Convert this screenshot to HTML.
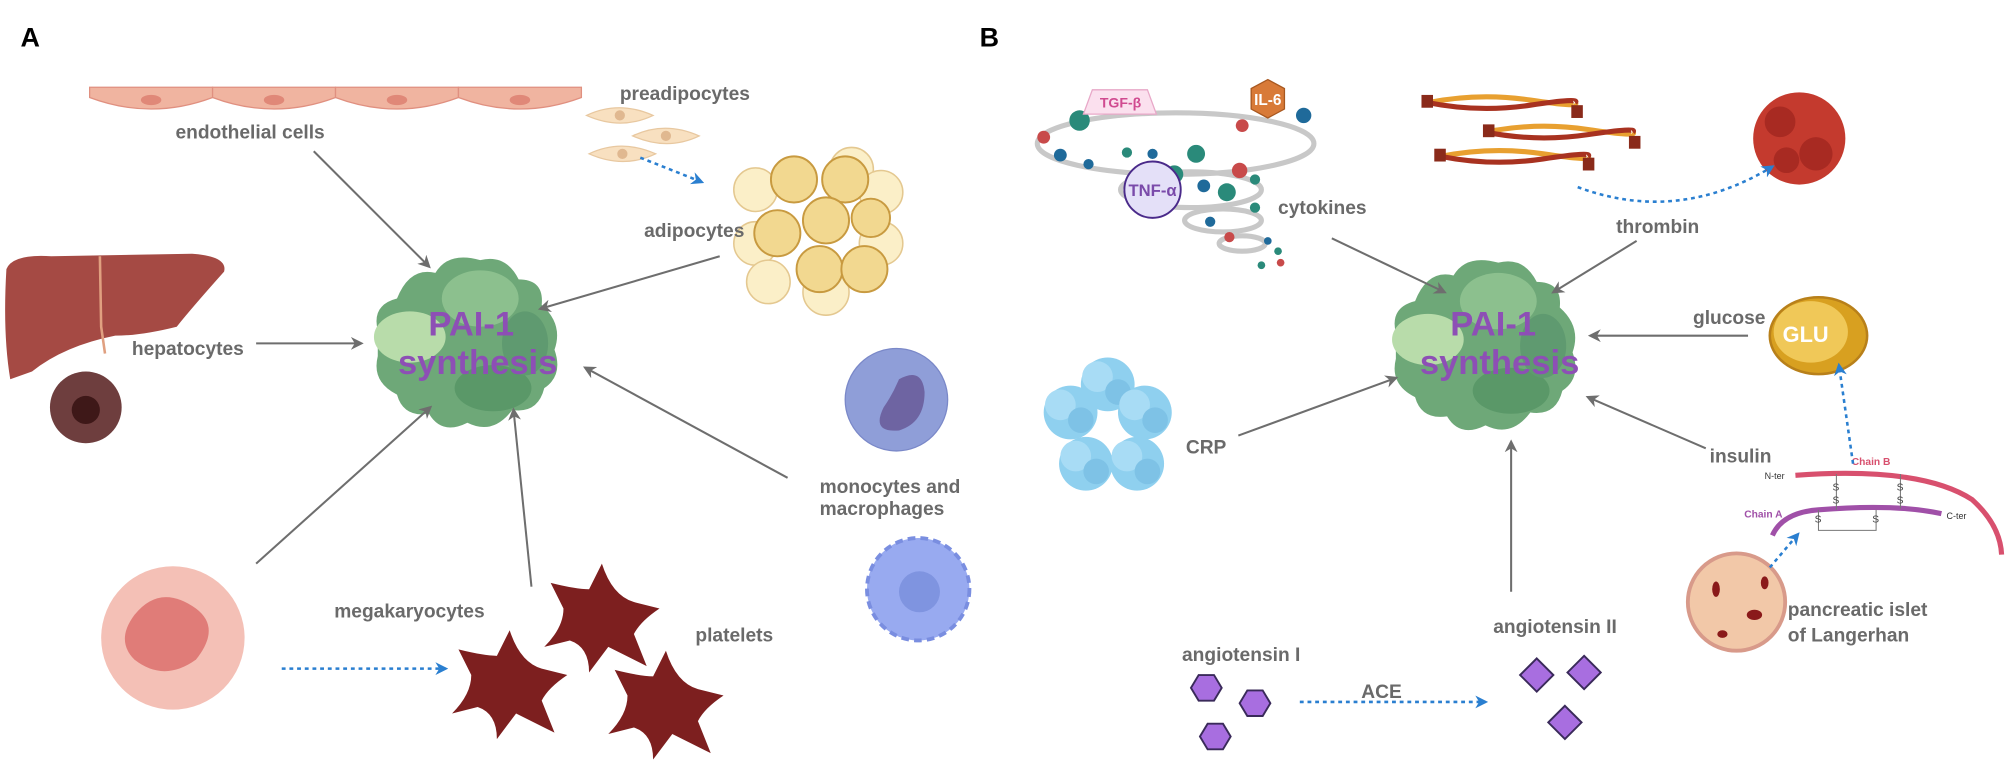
<!DOCTYPE html>
<html><head><meta charset="utf-8"><style>
html,body{margin:0;padding:0;background:#fff;}
svg{display:block;}
text{font-family:"Liberation Sans",sans-serif;}
.l{font-size:15px;font-weight:bold;fill:#6a6a6a;}
.p{font-size:27px;font-weight:bold;fill:#8d4fb5;text-anchor:middle;}
.ar{stroke:#6e6e6e;stroke-width:1.6;fill:none;marker-end:url(#ag);}
.db{stroke:#2a7fd0;stroke-width:2;stroke-dasharray:3 3;fill:none;marker-end:url(#ab);}
</style></head><body>
<svg width="2008" height="761" viewBox="0 0 1568 594" xmlns="http://www.w3.org/2000/svg">
<defs>
<marker id="ag" markerWidth="10" markerHeight="10" refX="8" refY="5" orient="auto" markerUnits="userSpaceOnUse"><path d="M0,0 L10,5 L0,10 L3,5 z" fill="#6e6e6e"/></marker>
<marker id="ab" markerWidth="10" markerHeight="10" refX="8" refY="5" orient="auto" markerUnits="userSpaceOnUse"><path d="M0,0 L10,5 L0,10 L3,5 z" fill="#2a7fd0"/></marker>
<g id="blob">
<path d="M-70,-10 Q-75,-30 -55,-35 Q-45,-60 -25,-55 Q-15,-72 10,-65 Q30,-70 40,-50 Q60,-50 58,-30 Q75,-15 68,5 Q75,25 60,35 Q55,55 35,52 Q20,72 0,62 Q-20,72 -30,55 Q-50,58 -55,40 Q-75,30 -70,10 z" fill="#6ea878"/>
<ellipse cx="-45" cy="-5" rx="28" ry="20" fill="#b8dcaa"/>
<ellipse cx="10" cy="-35" rx="30" ry="22" fill="#8cc08e"/>
<ellipse cx="20" cy="35" rx="30" ry="18" fill="#5a9868"/>
<ellipse cx="45" cy="0" rx="18" ry="25" fill="#5f9a70"/>
</g>
<g id="crp"><circle r="21" fill="#8fd0ef"/><circle cx="-8" cy="-6" r="12" fill="#a8dcf5"/><circle cx="8" cy="6" r="10" fill="#7ec2e6"/></g>
<g id="plt"><path d="M0,-40 Q8,-15 25,-10 L45,-5 Q30,5 25,15 L35,40 Q15,30 5,25 L-10,45 Q-10,25 -25,20 L-45,25 Q-30,10 -30,-5 L-40,-25 Q-20,-20 -10,-20 z" fill="#7d1f1f"/></g>
</defs>

<text x="16" y="36" style="font-size:21px;font-weight:bold;fill:#000">A</text>
<text x="765" y="36" style="font-size:21px;font-weight:bold;fill:#000">B</text>

<!-- endothelial -->
<g fill="#f0b4a0" stroke="#e09080" stroke-width="1">
<path d="M70,68 h96 v8 q-48,18 -96,0 z"/><path d="M166,68 h96 v8 q-48,18 -96,0 z"/><path d="M262,68 h96 v8 q-48,18 -96,0 z"/><path d="M358,68 h96 v8 q-48,18 -96,0 z"/>
</g>
<g fill="#e08878"><ellipse cx="118" cy="78" rx="8" ry="4"/><ellipse cx="214" cy="78" rx="8" ry="4"/><ellipse cx="310" cy="78" rx="8" ry="4"/><ellipse cx="406" cy="78" rx="8" ry="4"/></g>
<text x="137" y="108" class="l">endothelial cells</text>

<!-- preadipocytes -->
<g fill="#f8e0c0" stroke="#e8c8a0"><path d="M458,90 q25,-12 52,0 q-25,12 -52,0z"/><path d="M494,106 q25,-12 52,0 q-25,12 -52,0z"/><path d="M460,120 q25,-12 52,0 q-25,12 -52,0z"/></g>
<g fill="#e0b890"><circle cx="484" cy="90" r="4"/><circle cx="520" cy="106" r="4"/><circle cx="486" cy="120" r="4"/></g>
<text x="484" y="78" class="l">preadipocytes</text>
<path class="db" d="M500,123 L548,142"/>

<!-- adipocytes -->
<g stroke="#e4c890" stroke-width="1.2" fill="#fbefc8">
<circle cx="590" cy="148" r="17"/><circle cx="665" cy="132" r="17"/><circle cx="688" cy="150" r="17"/><circle cx="590" cy="190" r="17"/><circle cx="688" cy="190" r="17"/><circle cx="600" cy="220" r="17"/><circle cx="645" cy="228" r="18"/>
</g>
<g stroke="#c89a40" stroke-width="1.5" fill="#f2d890">
<circle cx="620" cy="140" r="18"/><circle cx="660" cy="140" r="18"/><circle cx="645" cy="172" r="18"/><circle cx="607" cy="182" r="18"/><circle cx="680" cy="170" r="15"/><circle cx="640" cy="210" r="18"/><circle cx="675" cy="210" r="18"/>
</g>
<text x="503" y="185" class="l">adipocytes</text>

<!-- liver -->
<path d="M5,210 Q10,198 40,200 L150,198 Q178,200 175,212 Q150,240 138,255 Q110,262 90,262 Q50,270 25,290 L8,296 Q2,260 5,210z" fill="#a54a44"/>
<path d="M78,200 L79,255 L82,276" stroke="#e0a080" stroke-width="2" fill="none"/>
<circle cx="67" cy="318" r="28" fill="#6e3e3e"/>
<circle cx="67" cy="320" r="11" fill="#3e1818"/>
<text x="103" y="277" class="l">hepatocytes</text>

<!-- PAI A -->
<use href="#blob" x="365" y="268"/>
<text x="368" y="262" class="p">PAI-1</text>
<text x="373" y="292" class="p">synthesis</text>

<!-- monocytes -->
<circle cx="700" cy="312" r="40" fill="#8f9ed8" stroke="#7a88c8"/>
<path d="M690,318 q-10,20 12,18 q20,-6 20,-30 q-2,-20 -20,-10 q-5,12 -12,22z" fill="#6e64a2"/>
<text x="640" y="385" class="l">monocytes and</text>
<text x="640" y="402" class="l">macrophages</text>
<circle cx="717" cy="460" r="40" fill="#98aaf0" stroke="#7a8ee0" stroke-width="3" stroke-dasharray="6 4"/>
<circle cx="718" cy="462" r="16" fill="#7f94e0"/>

<!-- megakaryocyte -->
<circle cx="135" cy="498" r="56" fill="#f4c0b6"/>
<path d="M105,480 q20,-25 48,-5 q20,15 0,40 q-25,18 -48,0 q-15,-15 0,-35z" fill="#e07c78"/>
<text x="261" y="482" class="l">megakaryocytes</text>
<path class="db" d="M220,522 L348,522"/>

<!-- platelets -->
<use href="#plt" x="398" y="532"/>
<use href="#plt" x="470" y="480"/>
<use href="#plt" x="520" y="548"/>
<text x="543" y="501" class="l">platelets</text>

<!-- arrows A -->
<path class="ar" d="M245,118 L335,208"/>
<path class="ar" d="M200,268 L282,268"/>
<path class="ar" d="M562,200 L422,241"/>
<path class="ar" d="M615,373 L457,287"/>
<path class="ar" d="M200,440 L336,318"/>
<path class="ar" d="M415,458 L401,320"/>

<!-- B cytokines -->
<g fill="none" stroke="#c8c8c8" stroke-width="4">
<ellipse cx="918" cy="112" rx="108" ry="24"/>
<ellipse cx="930" cy="148" rx="55" ry="14"/>
<ellipse cx="955" cy="172" rx="30" ry="9"/>
<ellipse cx="970" cy="190" rx="18" ry="6"/>
</g>
<g>
<circle cx="843" cy="94" r="8" fill="#2a8a7a"/><circle cx="815" cy="107" r="5" fill="#c84a4a"/><circle cx="828" cy="121" r="5" fill="#1f6a9a"/><circle cx="880" cy="119" r="4" fill="#2a8a7a"/><circle cx="934" cy="120" r="7" fill="#2a8a7a"/><circle cx="970" cy="98" r="5" fill="#c84a4a"/><circle cx="1018" cy="90" r="6" fill="#1f6a9a"/><circle cx="958" cy="150" r="7" fill="#2a8a7a"/><circle cx="900" cy="120" r="4" fill="#1f6a9a"/><circle cx="850" cy="128" r="4" fill="#1f6a9a"/><circle cx="968" cy="133" r="6" fill="#c84a4a"/><circle cx="980" cy="140" r="4" fill="#2a8a7a"/><circle cx="945" cy="173" r="4" fill="#1f6a9a"/><circle cx="980" cy="162" r="4" fill="#2a8a7a"/><circle cx="960" cy="185" r="4" fill="#c84a4a"/><circle cx="990" cy="188" r="3" fill="#1f6a9a"/><circle cx="998" cy="196" r="3" fill="#2a8a7a"/><circle cx="1000" cy="205" r="3" fill="#c84a4a"/><circle cx="985" cy="207" r="3" fill="#2a8a7a"/><circle cx="940" cy="145" r="5" fill="#1f6a9a"/>
<circle cx="917" cy="136" r="7" fill="#2a8a7a"/>
</g>
<path d="M853,70 h43 l7,19 h-57 z" fill="#fbe0ee" stroke="#e8a8c8"/>
<text x="875" y="84" style="font-size:11px;font-weight:bold;fill:#d04a90;text-anchor:middle">TGF-β</text>
<path d="M990,62 l13,7 v16 l-13,7 l-13,-7 v-16z" fill="#d87a38" stroke="#a85820"/>
<text x="990" y="82" style="font-size:12px;font-weight:bold;fill:#fff;text-anchor:middle">IL-6</text>
<circle cx="900" cy="148" r="22" fill="#e4e0f8" stroke="#4a2a8a" stroke-width="1.5"/>
<text x="900" y="153" style="font-size:13px;font-weight:bold;fill:#7a4aaa;text-anchor:middle">TNF-α</text>
<text x="998" y="167" class="l">cytokines</text>

<!-- thrombin -->
<g stroke-width="4" fill="none">
<path d="M1115,80 q40,-8 80,-2 t35,2" stroke="#e8a030"/><path d="M1115,80 q40,8 80,2 t35,-2" stroke="#a83220"/>
<path d="M1160,103 q40,-8 80,-2 t35,2" stroke="#e8a030"/><path d="M1160,103 q40,8 80,2 t35,-2" stroke="#a83220"/>
<path d="M1125,122 q40,-8 80,-2 t35,2" stroke="#e8a030"/><path d="M1125,122 q40,8 80,2 t35,-2" stroke="#a83220"/>
</g>
<g fill="#8a2a1a"><rect x="1110" y="74" width="9" height="10"/><rect x="1227" y="82" width="9" height="10"/><rect x="1158" y="97" width="9" height="10"/><rect x="1272" y="106" width="9" height="10"/><rect x="1120" y="116" width="9" height="10"/><rect x="1236" y="123" width="9" height="10"/></g>
<circle cx="1405" cy="108" r="36" fill="#c43a2e"/>
<g fill="#a82a22"><circle cx="1390" cy="95" r="12"/><circle cx="1418" cy="120" r="13"/><circle cx="1395" cy="125" r="10"/></g>
<path class="db" d="M1232,146 Q1310,175 1384,130"/>
<text x="1262" y="182" class="l">thrombin</text>

<!-- PAI B -->
<use href="#blob" x="1160" y="270"/>
<text x="1166" y="262" class="p">PAI-1</text>
<text x="1171" y="292" class="p">synthesis</text>

<!-- CRP -->
<use href="#crp" x="865" y="300"/><use href="#crp" x="836" y="322"/><use href="#crp" x="894" y="322"/><use href="#crp" x="848" y="362"/><use href="#crp" x="888" y="362"/>
<text x="926" y="354" class="l">CRP</text>

<!-- glucose -->
<ellipse cx="1420" cy="262" rx="38" ry="30" fill="#d8a020" stroke="#b8801a" stroke-width="2"/>
<ellipse cx="1414" cy="259" rx="29" ry="24" fill="#f0c858"/>
<text x="1410" y="267" style="font-size:17px;font-weight:bold;fill:#fff;text-anchor:middle">GLU</text>
<text x="1322" y="253" class="l">glucose</text>

<!-- insulin -->
<path d="M1402,371 Q1500,364 1540,390 Q1562,410 1563,433" stroke="#d8506e" stroke-width="4" fill="none"/>
<path d="M1384,418 Q1392,400 1420,398 Q1480,393 1516,401" stroke="#a050a8" stroke-width="4" fill="none"/>
<g stroke="#777" stroke-width="0.8" fill="none"><path d="M1434,370 v28 M1484,370 v27 M1420,398 v16 h45 v-16"/></g>
<g style="font-size:8px;fill:#444"><text x="1431" y="383">S</text><text x="1431" y="393">S</text><text x="1481" y="383">S</text><text x="1481" y="393">S</text><text x="1417" y="408">S</text><text x="1462" y="408">S</text></g>
<text x="1446" y="363" style="font-size:8px;font-weight:bold;fill:#d8506e">Chain B</text>
<text x="1378" y="374" style="font-size:7px;fill:#333">N-ter</text>
<text x="1362" y="404" style="font-size:8px;font-weight:bold;fill:#a050a8">Chain A</text>
<text x="1520" y="405" style="font-size:7px;fill:#333">C-ter</text>
<text x="1335" y="361" class="l">insulin</text>
<path class="db" d="M1447,362 L1436,285"/>

<!-- islet -->
<circle cx="1356" cy="470" r="38" fill="#f2c8a8" stroke="#d89a8a" stroke-width="3"/>
<g fill="#8a1a1a"><ellipse cx="1340" cy="460" rx="3" ry="6"/><ellipse cx="1370" cy="480" rx="6" ry="4"/><ellipse cx="1345" cy="495" rx="4" ry="3"/><ellipse cx="1378" cy="455" rx="3" ry="5"/></g>
<path class="db" d="M1382,443 L1404,417"/>
<text x="1396" y="481" class="l">pancreatic islet</text>
<text x="1396" y="501" class="l">of Langerhan</text>

<!-- angiotensin -->
<g fill="#a86ee0" stroke="#3a2a5a" stroke-width="1.5">
<path d="M930,537 l6,-10 h12 l6,10 l-6,10 h-12z"/><path d="M968,549 l6,-10 h12 l6,10 l-6,10 h-12z"/><path d="M937,575 l6,-10 h12 l6,10 l-6,10 h-12z"/>
<path d="M1200,514 l13,13 l-13,13 l-13,-13z"/><path d="M1237,512 l13,13 l-13,13 l-13,-13z"/><path d="M1222,551 l13,13 l-13,13 l-13,-13z"/>
</g>
<text x="923" y="516" class="l">angiotensin I</text>
<text x="1166" y="494" class="l">angiotensin II</text>
<text x="1063" y="545" class="l">ACE</text>
<path class="db" d="M1015,548 L1160,548"/>

<!-- arrows B -->
<path class="ar" d="M1040,186 L1128,228"/>
<path class="ar" d="M1278,188 L1213,228"/>
<path class="ar" d="M1365,262 L1242,262"/>
<path class="ar" d="M967,340 L1090,295"/>
<path class="ar" d="M1332,350 L1240,310"/>
<path class="ar" d="M1180,462 L1180,345"/>
</svg>
</body></html>
